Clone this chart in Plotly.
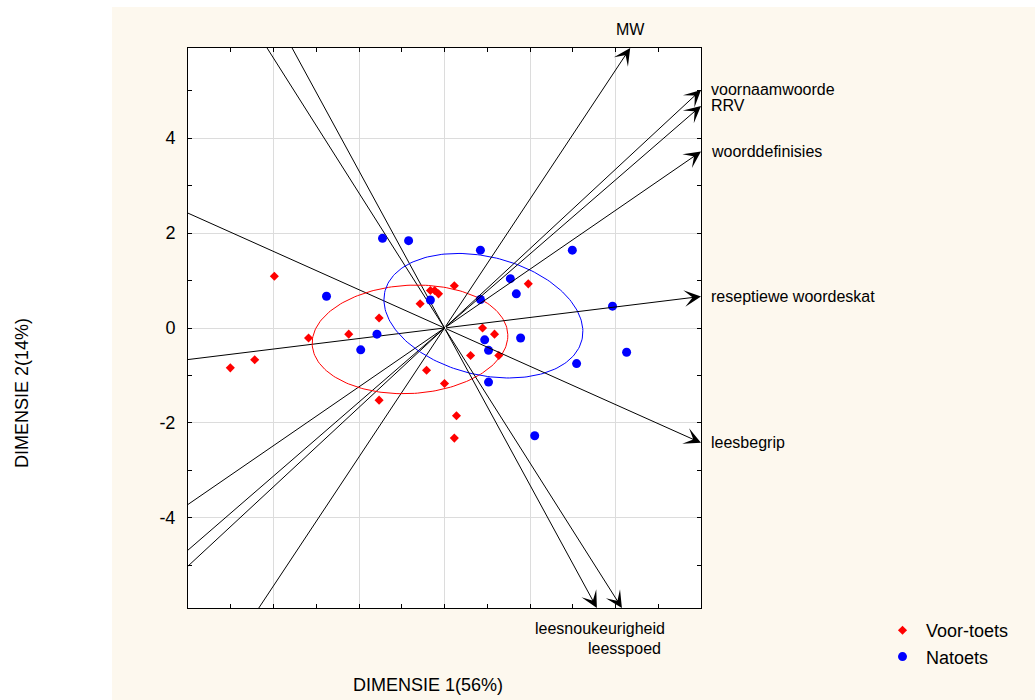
import numpy as np
import plotly.graph_objects as go

# ---------------- data ----------------
voor_x = [-3.98, -5.01, -4.44, -3.18, -2.24, -1.53, -1.53, -0.57, -0.33, -0.23, -0.14,
          -0.42, 0.00, 0.23, 1.96, 0.89, 1.17, 0.61, 1.27, 0.28, 0.23]
voor_y = [1.09, -0.84, -0.67, -0.21, -0.13, 0.21, -1.52, 0.51, 0.79, 0.79, 0.72,
          -0.89, -1.17, 0.89, 0.93, 0.00, -0.13, -0.58, -0.58, -1.85, -2.32]

na_x = [-1.45, -0.84, -2.76, -0.33, -1.58, -1.96, 0.84, 2.99, 1.54, 1.68, 0.84,
        3.93, 0.94, 1.78, 1.03, 4.26, 3.09, 1.03, 2.11]
na_y = [1.89, 1.84, 0.67, 0.59, -0.13, -0.46, 1.64, 1.64, 1.04, 0.72, 0.60,
        0.46, -0.25, -0.21, -0.47, -0.51, -0.75, -1.14, -2.27]

var_names = ["MW", "voornaamwoorde", "RRV", "woorddefinisies",
             "reseptiewe woordeskat", "leesbegrip", "leesnoukeurigheid", "leesspoed"]
var_x = [4.344, 6.0, 6.0, 6.0, 6.0, 6.0, 3.565, 4.15]
var_y = [5.9, 5.017, 4.68, 3.718, 0.665, -2.42, -5.9, -5.9]

# confidence ellipses: centre x, centre y, semi-axis a, semi-axis b, angle (deg)
ell_voor = [-0.807, -0.24, 2.290, 1.141, 2.65]
ell_na = [0.91, 0.259, 2.361, 1.250, -11.5]

series_names = ["Voor-toets", "Natoets"]
x_title = "DIMENSIE 1(56%)"
y_title = "DIMENSIE 2(14%)"
y_ticks = [-4, -2, 0, 2, 4]
y_tick_labels = ["-4", "-2", "0", "2", "4"]

XR = [-6, 6]
YR = [-5.9, 5.9]

# ---------------- layout geometry ----------------
W, H = 1035, 700
ML, MR, MT, MB = 188, 334, 48, 92
PW = W - ML - MR
PH = H - MT - MB


def px_x(p):
    return (p - ML) / PW


def px_y(p):
    return (H - MB - p) / PH


FONT = "Arial, Liberation Sans, sans-serif"
CREAM = "#fdf8ee"

fig = go.Figure()

# biplot lines (negative half)
for vx, vy in zip(var_x, var_y):
    fig.add_trace(go.Scatter(x=[-vx, 0], y=[-vy, 0], mode="lines",
                             line=dict(color="black", width=1),
                             showlegend=False, hoverinfo="skip"))


def ellipse(p):
    cx, cy, a, b, ang = p
    t = np.linspace(0, 2 * np.pi, 200)
    th = np.deg2rad(ang)
    ex = cx + a * np.cos(t) * np.cos(th) - b * np.sin(t) * np.sin(th)
    ey = cy + a * np.cos(t) * np.sin(th) + b * np.sin(t) * np.cos(th)
    return ex, ey


for p, col in [(ell_voor, "#ff0000"), (ell_na, "#0000ff")]:
    ex, ey = ellipse(p)
    fig.add_trace(go.Scatter(x=ex, y=ey, mode="lines", line=dict(color=col, width=1),
                             showlegend=False, hoverinfo="skip"))

fig.add_trace(go.Scatter(x=voor_x, y=voor_y, mode="markers", name=series_names[0],
                         marker=dict(symbol="diamond", size=7, color="#ff0000",
                                     line=dict(width=0))))
fig.add_trace(go.Scatter(x=na_x, y=na_y, mode="markers", name=series_names[1],
                         marker=dict(symbol="circle", size=9, color="#0000ff",
                                     line=dict(width=0))))

annotations = []
# arrows (positive half)
for vx, vy in zip(var_x, var_y):
    annotations.append(dict(x=vx, y=vy, ax=0, ay=0, xref="x", yref="y",
                            axref="x", ayref="y", text="", showarrow=True,
                            arrowhead=3, arrowsize=2.8, arrowwidth=1,
                            arrowcolor="black", standoff=0))

# variable labels
bottom_count = 0
for name, vx, vy in zip(var_names, var_x, var_y):
    if vx >= XR[1] - 1e-9:
        annotations.append(dict(x=vx, y=vy, xref="x", yref="y", text=name,
                                showarrow=False, xanchor="left", yanchor="middle",
                                xshift=8, font=dict(family=FONT, size=16, color="black")))
    elif vy >= YR[1] - 1e-9:
        annotations.append(dict(x=vx, y=vy, xref="x", yref="y", text=name,
                                showarrow=False, xanchor="center", yanchor="middle",
                                yshift=19, font=dict(family=FONT, size=16, color="black")))
    else:
        annotations.append(dict(x=vx, y=vy, xref="x", yref="y", text=name,
                                showarrow=False, xanchor="center", yanchor="middle",
                                xshift=3, yshift=-20 - 20 * bottom_count,
                                font=dict(family=FONT, size=16, color="black")))
        bottom_count += 1

# axis titles
annotations.append(dict(x=px_x(428), y=px_y(685), xref="paper", yref="paper",
                        text=x_title, showarrow=False, xanchor="center", yanchor="middle",
                        font=dict(family=FONT, size=18, color="black")))
annotations.append(dict(x=px_x(22), y=px_y(393), xref="paper", yref="paper",
                        text=y_title, showarrow=False, xanchor="center", yanchor="middle",
                        textangle=-90, font=dict(family=FONT, size=18, color="black")))

shapes = [
    dict(type="rect", xref="paper", yref="paper", layer="below",
         x0=px_x(0), x1=px_x(112), y0=px_y(H), y1=px_y(0),
         fillcolor="white", line=dict(width=0)),
    dict(type="rect", xref="paper", yref="paper", layer="below",
         x0=px_x(0), x1=px_x(W), y0=px_y(7), y1=px_y(0),
         fillcolor="white", line=dict(width=0)),
]

axis_common = dict(showline=True, linecolor="black", linewidth=1, mirror="ticks",
                   ticks="inside", ticklen=4, tickcolor="black", tickwidth=1,
                   showgrid=True, gridcolor="#dcdcdc", gridwidth=1, zeroline=False,
                   minor=dict(ticks="inside", ticklen=4, tickcolor="black", dtick=1,
                              showgrid=False))

fig.update_layout(
    width=W, height=H,
    margin=dict(l=ML, r=MR, t=MT, b=MB, pad=0),
    paper_bgcolor=CREAM, plot_bgcolor="white",
    font=dict(family=FONT, size=18, color="black"),
    xaxis=dict(range=XR, dtick=2, tick0=0, showticklabels=False, **axis_common),
    yaxis=dict(range=YR, tickvals=y_ticks, ticktext=y_tick_labels, ticklabelstandoff=8,
               tickfont=dict(family=FONT, size=18, color="black"), **axis_common),
    showlegend=True,
    legend=dict(x=px_x(879), y=px_y(612), xanchor="left", yanchor="top",
                bgcolor="rgba(0,0,0,0)", font=dict(family=FONT, size=18, color="black"),
                tracegroupgap=0, itemwidth=37),
    annotations=annotations,
    shapes=shapes,
)

fig.write_html("out.html", post_script="document.body.style.margin='0';",
               config={"displayModeBar": False})
